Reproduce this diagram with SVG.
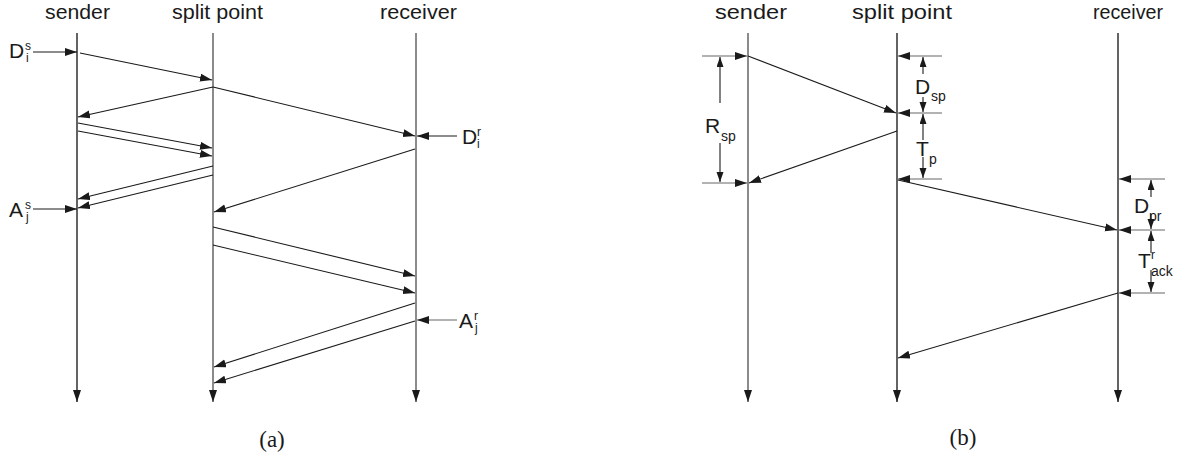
<svg xmlns="http://www.w3.org/2000/svg" width="1179" height="457" viewBox="0 0 1179 457">
<style>
.hdr{font-family:"Liberation Sans",Arial,sans-serif;font-size:21px;fill:#1a1a1a}
.lbl{font-family:"Liberation Sans",Arial,sans-serif;font-size:21px;fill:#1a1a1a}
.sm{font-family:"Liberation Sans",Arial,sans-serif;font-size:12px;fill:#1a1a1a}
.sub{font-family:"Liberation Sans",Arial,sans-serif;font-size:14px;fill:#1a1a1a}
.cap{font-family:"Liberation Serif","Times New Roman",serif;font-size:23px;fill:#1a1a1a}
.life{stroke:#5a5a5a;stroke-width:1.4;fill:none}
.msg{stroke:#1a1a1a;stroke-width:1.1;fill:none}
.tick{stroke:#666;stroke-width:1.1;fill:none}
</style>
<defs>
<marker id="ah" markerUnits="userSpaceOnUse" markerWidth="13" markerHeight="9" refX="12" refY="4" orient="auto">
<path d="M0,0 L12,4 L0,8 z" fill="#1a1a1a"/>
</marker>
<marker id="ahs" markerUnits="userSpaceOnUse" markerWidth="11" markerHeight="8" refX="10" refY="3.5" orient="auto">
<path d="M0,0 L10,3.5 L0,7 z" fill="#1a1a1a"/>
</marker>
</defs>

<!-- Panel (a) -->
<g id="a-sender">
<text class="hdr" x="45" y="19" textLength="65" lengthAdjust="spacingAndGlyphs">sender</text>
<line class="life" x1="77" y1="33" x2="77" y2="402" marker-end="url(#ah)" style="stroke:#222"/>
</g>
<g id="a-split">
<text class="hdr" x="172" y="19" textLength="91" lengthAdjust="spacingAndGlyphs">split point</text>
<line class="life" x1="213" y1="33" x2="213" y2="402" marker-end="url(#ah)"/>
</g>
<g id="a-receiver">
<text class="hdr" x="380" y="19" textLength="77" lengthAdjust="spacingAndGlyphs">receiver</text>
<line class="life" x1="416" y1="33" x2="416" y2="402" marker-end="url(#ah)"/>
</g>
<g id="a-labels">
<text class="lbl" x="9" y="58">D</text><text class="sm" x="25" y="50">s</text><text class="sm" x="26" y="62">i</text>
<text class="lbl" x="9" y="217">A</text><text class="sm" x="25" y="209">s</text><text class="sm" x="26" y="221">j</text>
<text class="lbl" x="462" y="144">D</text><text class="sm" x="477" y="136">r</text><text class="sm" x="477" y="148">i</text>
<text class="lbl" x="459" y="328">A</text><text class="sm" x="474" y="320">r</text><text class="sm" x="475" y="332">j</text>
<text class="cap" x="272" y="447" text-anchor="middle">(a)</text>
</g>
<g id="a-connectors">
<line class="msg" x1="33" y1="52" x2="77" y2="52" marker-end="url(#ah)"/>
<line class="msg" x1="33" y1="209" x2="77" y2="209" marker-end="url(#ah)"/>
<line class="msg" x1="457" y1="136" x2="417" y2="136" marker-end="url(#ah)"/>
<line class="tick" x1="457" y1="320" x2="417" y2="320" marker-end="url(#ah)"/>
<line class="msg" x1="80" y1="53" x2="212" y2="80" marker-end="url(#ah)"/>
<line class="msg" x1="213" y1="87" x2="78" y2="117" marker-end="url(#ah)"/>
<line class="msg" x1="213" y1="87" x2="415" y2="136" marker-end="url(#ah)"/>
<line class="msg" x1="78" y1="123" x2="212" y2="148" marker-end="url(#ah)"/>
<line class="msg" x1="78" y1="131" x2="212" y2="156" marker-end="url(#ah)"/>
<line class="msg" x1="213" y1="166" x2="78" y2="199" marker-end="url(#ah)"/>
<line class="msg" x1="213" y1="175" x2="78" y2="208" marker-end="url(#ah)"/>
<line class="msg" x1="415" y1="149" x2="214" y2="212" marker-end="url(#ah)"/>
<line class="msg" x1="213" y1="227" x2="415" y2="276" marker-end="url(#ah)"/>
<line class="msg" x1="213" y1="245" x2="415" y2="293" marker-end="url(#ah)"/>
<line class="msg" x1="415" y1="303" x2="214" y2="367" marker-end="url(#ah)"/>
<line class="msg" x1="415" y1="321" x2="214" y2="383" marker-end="url(#ah)"/>
</g>

<!-- Panel (b) -->
<g id="b-sender">
<text class="hdr" x="715" y="19" textLength="72" lengthAdjust="spacingAndGlyphs">sender</text>
<line class="life" x1="748" y1="33" x2="748" y2="402" marker-end="url(#ah)"/>
</g>
<g id="b-split">
<text class="hdr" x="852" y="19" textLength="100" lengthAdjust="spacingAndGlyphs">split point</text>
<line class="life" x1="897" y1="33" x2="897" y2="402" marker-end="url(#ah)" style="stroke:#222"/>
</g>
<g id="b-receiver">
<text class="hdr" x="1093" y="19" textLength="70" lengthAdjust="spacingAndGlyphs">receiver</text>
<line class="life" x1="1118" y1="33" x2="1118" y2="402" marker-end="url(#ah)" style="stroke:#222"/>
</g>
<g id="b-labels">
<text class="lbl" x="705" y="133">R</text><text class="sub" x="721" y="141">sp</text>
<text class="lbl" x="915" y="94">D</text><text class="sub" x="931" y="101">sp</text>
<text class="lbl" x="916" y="156">T</text><text class="sub" x="929" y="164">p</text>
<text class="lbl" x="1134" y="213">D</text><text class="sub" x="1149" y="221">pr</text>
<text class="lbl" x="1138" y="268">T</text><text class="sm" x="1151" y="259">r</text><text class="sub" x="1151" y="276">ack</text>
<text class="cap" x="963" y="445" text-anchor="middle">(b)</text>
</g>
<g id="b-connectors">
<line class="msg" x1="748" y1="56" x2="896" y2="113" marker-end="url(#ah)"/>
<line class="msg" x1="897" y1="131" x2="749" y2="183" marker-end="url(#ah)"/>
<line class="msg" x1="898" y1="180" x2="1117" y2="230" marker-end="url(#ah)"/>
<line class="msg" x1="1118" y1="293" x2="898" y2="358" marker-end="url(#ah)"/>
<line class="tick" x1="702" y1="56" x2="747" y2="56" marker-end="url(#ah)"/>
<line class="tick" x1="702" y1="183" x2="747" y2="183" marker-end="url(#ah)"/>
<line class="tick" x1="942" y1="56" x2="898" y2="56" marker-end="url(#ah)"/>
<line class="tick" x1="942" y1="113" x2="898" y2="113" marker-end="url(#ah)"/>
<line class="tick" x1="942" y1="179" x2="898" y2="179" marker-end="url(#ah)"/>
<line class="tick" x1="1165" y1="179" x2="1119" y2="179" marker-end="url(#ah)"/>
<line class="tick" x1="1165" y1="230" x2="1119" y2="230" marker-end="url(#ah)"/>
<line class="tick" x1="1165" y1="293" x2="1119" y2="293" marker-end="url(#ah)"/>
<line class="msg" x1="720" y1="103" x2="720" y2="57" marker-end="url(#ahs)"/>
<line class="msg" x1="720" y1="143" x2="720" y2="182" marker-end="url(#ahs)"/>
<line class="msg" x1="923" y1="74" x2="923" y2="57" marker-end="url(#ahs)"/>
<line class="msg" x1="923" y1="97" x2="923" y2="112" marker-end="url(#ahs)"/>
<line class="msg" x1="923" y1="140" x2="923" y2="114" marker-end="url(#ahs)"/>
<line class="msg" x1="923" y1="157" x2="923" y2="178" marker-end="url(#ahs)"/>
<line class="msg" x1="1151" y1="197" x2="1151" y2="180" marker-end="url(#ahs)"/>
<line class="msg" x1="1151" y1="214" x2="1151" y2="229" marker-end="url(#ahs)"/>
<line class="msg" x1="1151" y1="253" x2="1151" y2="231" marker-end="url(#ahs)"/>
<line class="msg" x1="1151" y1="270" x2="1151" y2="292" marker-end="url(#ahs)"/>
</g>
</svg>
